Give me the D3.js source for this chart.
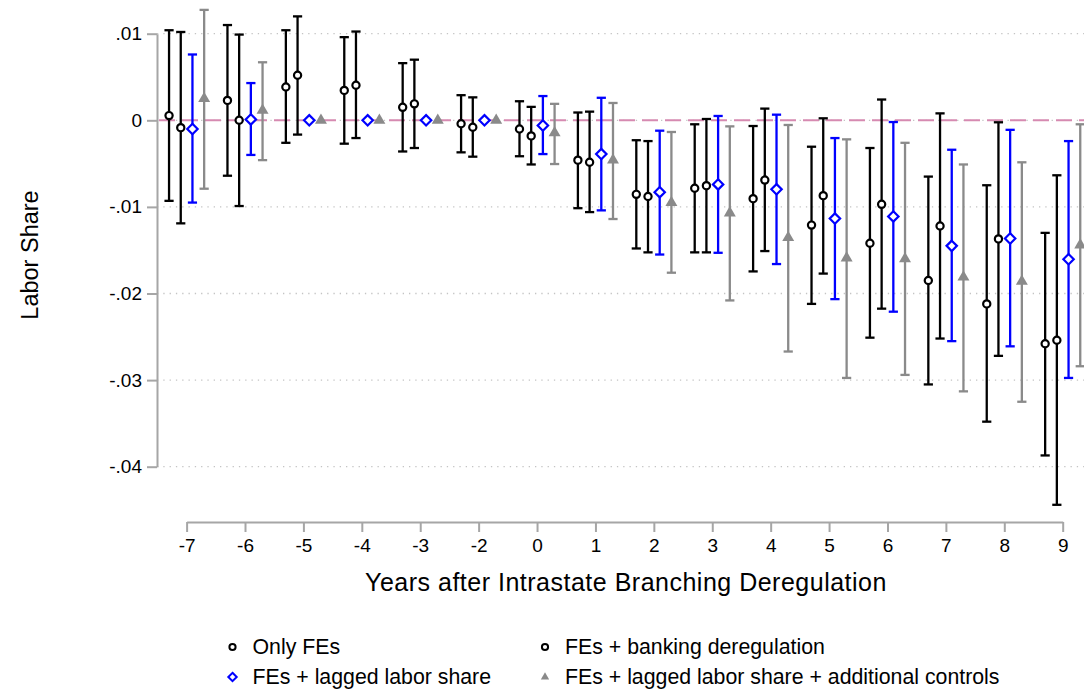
<!DOCTYPE html>
<html>
<head>
<meta charset="utf-8">
<script src="https://cdn.jsdelivr.net/npm/d3@7"></script>
<style>
  html, body { margin: 0; padding: 0; background: #fff; }
  svg { display: block; font-family: "Liberation Sans", Arial, Helvetica, sans-serif; }
</style>
</head>
<body>
<svg id="chart" width="1084" height="691"></svg>
<script>
// Event-study coefficients (labor share) with 95% confidence bounds, one array per specification.
const years = ["-7","-6","-5","-4","-3","-2","0","1","2","3","4","5","6","7","8","9"];
const yTicks = [0.01, 0, -0.01, -0.02, -0.03, -0.04];
const yTickLabels = [".01", "0", "-.01", "-.02", "-.03", "-.04"];

// Only FEs
const onlyFE    = [0.54, 2.3, 3.85, 3.45, 1.5, -0.4, -1.0, -4.6, -8.55, -7.85, -9.05, -12.1, -14.2, -18.5, -21.2, -25.8];
const onlyFELo  = [-9.3, -6.4, -2.6, -2.7, -3.6, -3.7, -4.15, -10.15, -14.8, -15.25, -17.45, -21.2, -25.1, -30.5, -34.8, -38.7];
const onlyFEHi  = [10.4, 11.0, 10.4, 9.6, 6.6, 2.9, 2.2, 0.9, -2.3, -0.46, -0.66, -3.05, -3.2, -6.5, -7.5, -13.0];

// FEs + banking deregulation
const banking   = [-0.85, 0, 5.2, 4.05, 1.9, -0.8, -1.8, -4.85, -8.8, -7.55, -6.9, -8.7, -9.7, -12.2, -13.7, -25.4];
const bankingLo = [-11.9, -9.9, -1.65, -2.05, -3.2, -4.2, -5.1, -10.6, -15.25, -15.25, -15.1, -17.7, -21.75, -25.2, -27.2, -44.4];
const bankingHi = [10.2, 9.9, 12.0, 10.25, 7.0, 2.65, 1.55, 1.0, -2.4, 0.15, 1.35, 0.23, 2.4, 0.8, -0.23, -6.35];

// FEs + lagged labor share
const lagged    = [-1.0, 0.1, 0, 0, 0, 0, -0.6, -3.9, -8.3, -7.4, -7.97, -11.35, -11.1, -14.5, -13.65, -16.05];
const laggedLo  = [-9.5, -4.0, null, null, null, null, -3.9, -10.4, -15.5, -15.3, -16.6, -20.65, -22.1, -25.5, -26.1, -29.75];
const laggedHi  = [7.6, 4.3, null, null, null, null, 2.8, 2.6, -1.2, 0.5, 0.65, -2.05, -0.2, -3.4, -1.1, -2.4];

// FEs + lagged labor share + additional controls
const controls   = [2.5, 1.15, 0, 0, 0, 0, -1.45, -4.6, -9.5, -10.7, -13.55, -15.9, -16.0, -18.1, -18.6, -14.4];
const controlsLo = [-7.9, -4.6, null, null, null, null, -5.05, -11.4, -17.6, -20.8, -26.7, -29.75, -29.4, -31.3, -32.5, -28.4];
const controlsHi = [12.75, 6.7, null, null, null, null, 1.9, 2.0, -1.35, -0.7, -0.54, -2.2, -2.6, -5.1, -4.85, -0.46];

const scaleK = 1e-3; // arrays above are in thousandths

const series = [
  { name: "Only FEs", est: onlyFE, lo: onlyFELo, hi: onlyFEHi, color: "#000000", shape: "circle" },
  { name: "FEs + banking deregulation", est: banking, lo: bankingLo, hi: bankingHi, color: "#000000", shape: "circle" },
  { name: "FEs + lagged labor share", est: lagged, lo: laggedLo, hi: laggedHi, color: "#0000ff", shape: "diamond" },
  { name: "FEs + lagged labor share + additional controls", est: controls, lo: controlsLo, hi: controlsHi, color: "#8a8a8a", shape: "triangle" }
];

const svg = d3.select("#chart");
const W = 1084;

const x = d3.scalePoint().domain(years).range([186.6, 1062.7]);
const y = d3.scaleLinear().domain([-0.04, 0.01]).range([466.7, 33.7]);
const offsets = [-17.55, -5.85, 5.85, 17.55];
const axisX = 157;
const axisY = 522;

// dotted horizontal gridlines
svg.append("g").selectAll("line")
  .data(yTicks)
  .join("line")
  .attr("x1", axisX).attr("x2", W)
  .attr("y1", d => y(d)).attr("y2", d => y(d))
  .attr("stroke", "#c4c4c4")
  .attr("stroke-width", 1.3)
  .attr("stroke-dasharray", "1.3,5");

// zero reference line
svg.append("line")
  .attr("x1", axisX + 2).attr("x2", W)
  .attr("y1", y(0)).attr("y2", y(0))
  .attr("stroke", "#d68ab1")
  .attr("stroke-width", 2)
  .attr("stroke-dasharray", "16,7");

// y axis
const yAxis = svg.append("g")
  .attr("transform", `translate(${axisX},0)`)
  .call(d3.axisLeft(y).tickValues(yTicks)
    .tickFormat((d, i) => yTickLabels[i])
    .tickSize(10).tickSizeOuter(0).tickPadding(5));
yAxis.select(".domain").attr("stroke", "#a6a6a6").attr("stroke-width", 2);
yAxis.selectAll(".tick line").attr("stroke", "#a6a6a6").attr("stroke-width", 2);
yAxis.selectAll(".tick text").attr("font-size", 19).attr("fill", "#000")
  .attr("font-family", "'Liberation Sans', Arial, sans-serif");

// x axis
const xAxis = svg.append("g")
  .attr("transform", `translate(0,${axisY})`)
  .call(d3.axisBottom(x).tickSize(10).tickSizeOuter(0).tickPadding(7));
xAxis.select(".domain").attr("stroke", "#a6a6a6").attr("stroke-width", 2);
xAxis.selectAll(".tick line").attr("stroke", "#a6a6a6").attr("stroke-width", 2);
xAxis.selectAll(".tick text").attr("font-size", 19).attr("fill", "#000")
  .attr("font-family", "'Liberation Sans', Arial, sans-serif");

// axis titles
svg.append("text")
  .attr("x", 626).attr("y", 591)
  .attr("text-anchor", "middle")
  .attr("font-size", 25)
  .attr("letter-spacing", 0.5)
  .text("Years after Intrastate Branching Deregulation");

svg.append("text")
  .attr("transform", "translate(38,255) rotate(-90)")
  .attr("text-anchor", "middle")
  .attr("font-size", 23.5)
  .text("Labor Share");

function markerPath(shape, big) {
  if (shape === "diamond") {
    const r = big ? 5.2 : 4.2;
    return `M0,${-r}L${r},0L0,${r}L${-r},0Z`;
  }
  if (shape === "triangle") {
    return d3.symbol(d3.symbolTriangle, big ? 62 : 30)();
  }
  return null;
}

function drawMarker(g, shape, color, big) {
  if (shape === "circle") {
    g.append("circle").attr("r", big ? 3.6 : 3.1)
      .attr("fill", "#fff").attr("stroke", color).attr("stroke-width", big ? 2.2 : 2);
  } else if (shape === "diamond") {
    g.append("path").attr("d", markerPath(shape, big))
      .attr("fill", "#fff").attr("stroke", color).attr("stroke-width", big ? 2.2 : 2);
  } else {
    g.append("path").attr("d", markerPath(shape, big)).attr("fill", color);
  }
}

// error bars and point estimates
series.forEach((s, si) => {
  const g = svg.append("g");
  years.forEach((yr, i) => {
    const cx = x(yr) + offsets[si];
    const lo = s.lo[i], hi = s.hi[i];
    if (lo !== null && hi !== null) {
      const y1 = y(hi * scaleK), y2 = y(lo * scaleK);
      g.append("line").attr("x1", cx).attr("x2", cx).attr("y1", y1).attr("y2", y2)
        .attr("stroke", s.color).attr("stroke-width", 2.3);
      [y1, y2].forEach(yy => {
        g.append("line").attr("x1", cx - 4.6).attr("x2", cx + 4.6).attr("y1", yy).attr("y2", yy)
          .attr("stroke", s.color).attr("stroke-width", 2.3);
      });
    }
    const m = g.append("g").attr("transform", `translate(${cx},${y(s.est[i] * scaleK)})`);
    drawMarker(m, s.shape, s.color, true);
  });
});

// legend
const legendPos = [
  { mx: 232.5, ty: 647 }, { mx: 545, ty: 647 },
  { mx: 232.5, ty: 677 }, { mx: 545, ty: 677 }
];
series.forEach((s, si) => {
  const p = legendPos[si];
  const m = svg.append("g").attr("transform", `translate(${p.mx},${p.ty})`);
  drawMarker(m, s.shape, s.color, false);
  svg.append("text")
    .attr("x", p.mx + 20).attr("y", p.ty)
    .attr("dy", "0.35em")
    .attr("font-size", 21.3)
    .text(s.name);
});
</script>
</body>
</html>
